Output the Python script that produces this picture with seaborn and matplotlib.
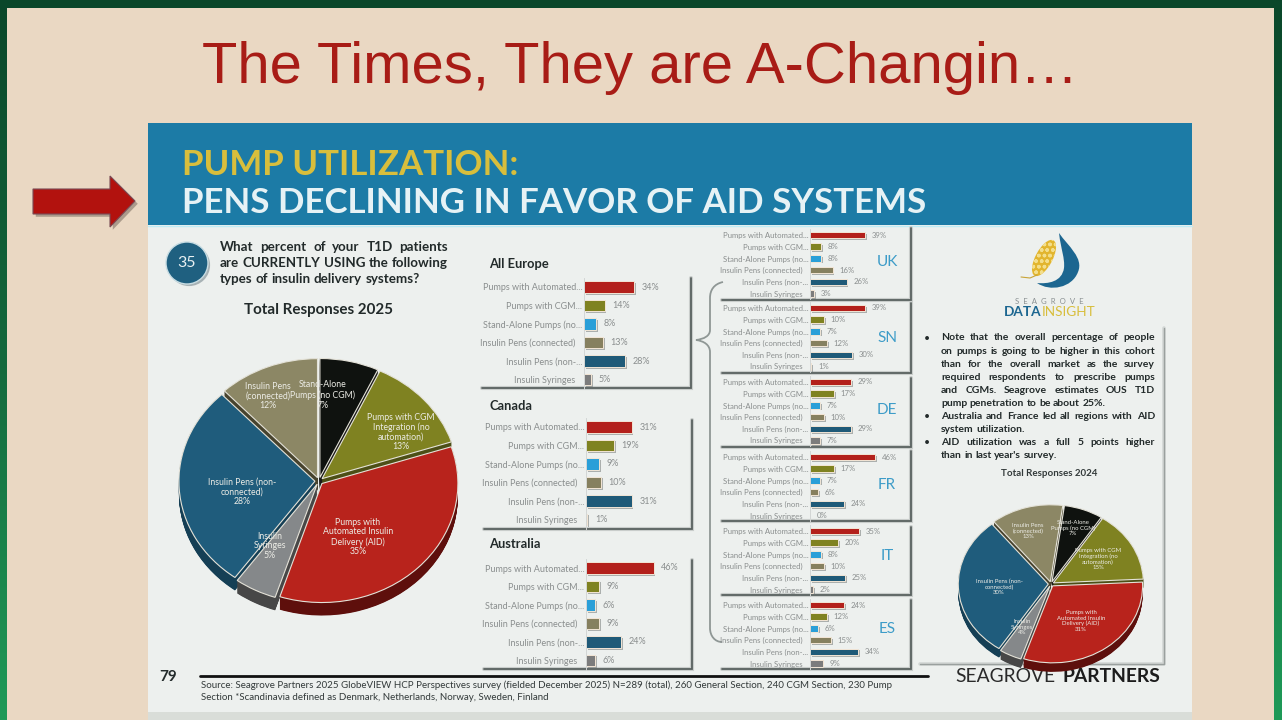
import numpy as np
import pandas as pd
import seaborn as sns
import matplotlib
matplotlib.use("Agg")
import matplotlib.pyplot as plt
import matplotlib.patheffects as pe
from matplotlib.patches import Rectangle, Polygon, Circle, Ellipse, PathPatch
from matplotlib.path import Path

# chart values
bar_names = ["Pumps with Automated...", "Pumps with CGM...", "Stand-Alone Pumps (no...",
             "Insulin Pens (connected)", "Insulin Pens (non-...", "Insulin Syringes"]
all_europe = [34, 14, 8, 13, 28, 5]
canada = [31, 19, 9, 10, 31, 1]
australia = [46, 9, 6, 9, 24, 6]
uk = [39, 8, 8, 16, 26, 3]
sn = [39, 10, 7, 12, 30, 1]
de = [29, 17, 7, 10, 29, 7]
fr = [46, 17, 7, 6, 24, 0]
it = [35, 20, 8, 10, 25, 2]
es = [24, 12, 6, 15, 34, 9]

pie_names = ["Stand-Alone\nPumps (no CGM)", "Pumps with CGM\nIntegration (no\nautomation)",
             "Pumps with\nAutomated Insulin\nDelivery (AID)", "Insulin\nSyringes",
             "Insulin Pens (non-\nconnected)", "Insulin Pens\n(connected)"]
pie_2025 = [7, 13, 35, 5, 28, 12]
pie_2024 = [7, 15, 31, 4, 30, 13]

notes = [
    ("Note that the overall percentage of people", True, True),
    ("on pumps is going to be higher in this cohort", True, False),
    ("than for the overall market as the survey", True, False),
    ("required respondents to prescribe pumps", True, False),
    ("and CGMs.  Seagrove estimates OUS T1D", True, False),
    ("pump penetration to be about 25%.", False, False),
    ("Australia and France led all regions with AID", True, True),
    ("system utilization.", False, False),
    ("AID utilization was a full 5 points higher", True, True),
    ("than in last year's survey.", False, False),
]

# colours
bar_colors = ["#B3201B", "#7F8221", "#2A9FD8", "#86805F", "#1F5A78", "#7C7C7C"]
pie_colors = ["#0F120F", "#7F8221", "#B8231C", "#85888A", "#1F5C7C", "#8C8765"]
pie_sides = ["#1A1A18", "#4C4F16", "#5E0F0C", "#474747", "#153F55", "#47432E"]
PANEL = "#EDF0EE"
TICK = "#8A8E8E"

sns.set_theme(style="white")
plt.rcParams["font.family"] = ["Lato", "DejaVu Sans"]

fig = plt.figure(figsize=(12.82, 7.2), dpi=100)
W, H = 1282, 720
renderer = fig.canvas.get_renderer()


def px_axes(x0, y0, x1, y1, z):
    """Axes placed with pixel corners, y counted from the top."""
    ax = fig.add_axes([x0 / W, 1 - y1 / H, (x1 - x0) / W, (y1 - y0) / H])
    ax.set_zorder(z)
    ax.patch.set_alpha(0)
    return ax


bg = px_axes(0, 0, W, H, 0)
bg.set_xlim(0, W)
bg.set_ylim(H, 0)
bg.axis("off")
top = px_axes(0, 0, W, H, 10)
top.set_xlim(0, W)
top.set_ylim(H, 0)
top.axis("off")

# slide background
green = np.linspace(0, 1, 256).reshape(-1, 1)
cmap = matplotlib.colors.LinearSegmentedColormap.from_list("g", ["#0A472A", "#14693D", "#1F9A58"])
bg.imshow(green, cmap=cmap, extent=(0, W, H, 0), aspect="auto", zorder=0)
bg.set_xlim(0, W)
bg.set_ylim(H, 0)
bg.add_patch(Rectangle((7, 8), 1267, 712, fc="#EAD8C3", ec="none", zorder=1))
bg.add_patch(Rectangle((148, 123), 1044, 597, fc="#D9DDD8", ec="none", zorder=1))
bg.add_patch(Rectangle((148, 123), 1044, 589, fc=PANEL, ec="none", zorder=1))
bg.add_patch(Rectangle((148, 123), 1044, 102, fc="#1C7BA6", ec="none", zorder=2))
bg.plot([148, 1192], [225.5, 225.5], color="#BDEBF5", lw=1, zorder=2)

bg.text(640, 68, "The Times, They are A-Changin\u2026", color="#A81C16", fontsize=41.8,
        family="Liberation Sans", ha="center", va="center", zorder=3)
bg.text(182, 165, "PUMP UTILIZATION:", color="#D8BE3C", fontsize=25.1, fontweight="bold",
        ha="left", va="center", zorder=3)
bg.text(182, 203, "PENS DECLINING IN FAVOR OF AID SYSTEMS", color="#E6F2F5", fontsize=25.1,
        fontweight="bold", ha="left", va="center", zorder=3)

# red arrow
arrow = Polygon([(33, 189), (110, 189), (110, 176), (135, 201), (110, 227), (110, 214), (33, 214)],
                fc="#B2120E", ec="#7A4A55", lw=0.8, zorder=3)
arrow.set_path_effects([pe.withSimplePatchShadow(offset=(2, -2), shadow_rgbFace="#6E6055", alpha=0.5)])
bg.add_patch(arrow)


def text_width(s, **kw):
    t = bg.text(0, 0, s, **kw)
    w = t.get_window_extent(renderer).width
    t.remove()
    return w


def justified(ax, x, y, width, line, stretch=True, **kw):
    """Write one line, spreading the words over the width like the slide text."""
    words = line.split()
    sizes = [text_width(w, **kw) for w in words]
    if stretch and len(words) > 1:
        gap = (width - sum(sizes)) / (len(words) - 1)
    else:
        gap = text_width("a a", **kw) - text_width("aa", **kw)
    for w, s in zip(words, sizes):
        ax.text(x, y, w, ha="left", va="center", **kw)
        x += s + gap


# question block
badge = Circle((187, 263), 21, fc="#1F6080", ec="#C8DDE3", lw=1, zorder=3)
badge.set_path_effects([pe.withSimplePatchShadow(offset=(1.5, -1.5), shadow_rgbFace="#7A8A90", alpha=0.6)])
bg.add_patch(badge)
bg.text(187, 263, "35", color="#E8F0F2", fontsize=11.5, ha="center", va="center", zorder=4)
question = [("What percent of your T1D patients", True),
            ("are CURRENTLY USING the following", True),
            ("types of insulin delivery systems?", False)]
for i, (line, stretch) in enumerate(question):
    justified(bg, 220, 247 + i * 16, 228, line, stretch, fontsize=9.6, fontweight="bold",
              color="#222A2A", zorder=3)
bg.text(318, 310, "Total Responses 2025", color="#222A2A", fontsize=10.9, fontweight="bold",
        ha="center", va="center", zorder=3)


def draw_pie(values, cx, cy, rx, ry, depth, start, explode):
    """Tilted pie: dark copies shifted down make the wall, the face goes on top."""
    ax = px_axes(cx - 1.3 * rx, cy - 1.3 * ry, cx + 1.3 * rx, cy + 1.3 * ry, 4)
    exp = [explode] * len(values)
    for k in np.linspace(depth, 0.5, int(depth) * 2):
        ax.pie(values, colors=pie_sides, startangle=start, counterclock=False, explode=exp,
               center=(0, -k / ry), wedgeprops=dict(linewidth=0))
    ax.pie(values, colors=pie_colors, startangle=start, counterclock=False, explode=exp,
           wedgeprops=dict(linewidth=0.8, edgecolor="#E4E2D8"))
    ax.set_aspect("auto")
    ax.set_xlim(-1.3, 1.3)
    ax.set_ylim(-1.3, 1.3)
    return ax


draw_pie(pie_2025, 319, 481, 136, 119, 13, 90, 0.03)
draw_pie(pie_2024, 1051, 584, 90, 77, 9, 82, 0.03)

spots_2025 = [(323, 395), (401, 432), (358, 537), (270, 546), (242, 492), (268, 396)]
spots_2024 = [(1073, 528), (1098, 559), (1081, 621), (1022, 627), (999, 587), (1028, 531)]
for names, vals, spots, size in [(pie_names, pie_2025, spots_2025, 6.3),
                                 (pie_names, pie_2024, spots_2024, 4.3)]:
    for name, v, (x, y) in zip(names, vals, spots):
        top.text(x, y, f"{name}\n{v}%", color="#ECECE6", fontsize=size, ha="center", va="center",
                 linespacing=1.1)


def bar_panel(values, x0, row0, step, scale, size, height, frame_left, frame_top, frame_right, frame_bottom):
    """One regional bar list with the slide's grey L-shaped frame."""
    ax = px_axes(x0, row0 - step / 2, x0 + 60 * scale, row0 + 5.5 * step, 5)
    df = pd.DataFrame({"name": bar_names, "value": values})
    sns.barplot(data=df, x="value", y="name", hue="name", palette=bar_colors, legend=False,
                width=height, saturation=1, ax=ax, edgecolor="#F3E6D6", linewidth=0.7)
    ax.set_xlim(0, 60)
    ax.set_ylim(5.5, -0.5)
    ax.set(xlabel="", ylabel="", xticks=[])
    for c in ax.containers:
        for b in c:
            b.set_path_effects([pe.withSimplePatchShadow(offset=(1.3, -1.3), shadow_rgbFace="#6A6F6E", alpha=0.5)])
        ax.bar_label(c, fmt="%d%%", padding=size * 0.85, fontsize=size, color=TICK)
    ax.tick_params(axis="y", length=0, labelsize=size, labelcolor=TICK)
    for name, tick in zip(bar_names, ax.yaxis.get_major_ticks()):
        tick.set_pad(size * 0.2 if name.endswith("...") else size * 1.0)
    sns.despine(ax=ax, top=True, right=True, bottom=True)
    ax.spines["left"].set_color("#D3D6D5")
    ax.spines["left"].set_linewidth(0.7)
    for lw, col in [(3, "#C9CDCB"), (1.3, "#59615F")]:
        bg.plot([frame_left, frame_right, frame_right], [frame_bottom, frame_bottom, frame_top],
                color=col, lw=lw, zorder=3, solid_joinstyle="miter")


big = dict(step=18.5, scale=1.47, size=6.45, height=0.63)
bar_panel(all_europe, 584, 287, frame_left=482, frame_top=278, frame_right=691, frame_bottom=388, **big)
bar_panel(canada, 586, 427, frame_left=484, frame_top=420, frame_right=692, frame_bottom=529, **big)
bar_panel(australia, 586, 568, frame_left=484, frame_top=560, frame_right=692, frame_bottom=669, **big)

small = dict(step=11.7, scale=1.41, size=5.55, height=0.56)
rows = [(uk, 235, 228, 300), (sn, 308, 303, 373), (de, 382, 378, 447),
        (fr, 457, 451, 521), (it, 531, 527, 595), (es, 605, 600, 669)]
for vals, row0, f_top, f_bottom in rows:
    bar_panel(vals, 810, row0, frame_left=722, frame_top=f_top, frame_right=911, frame_bottom=f_bottom, **small)

for name, y in [("All Europe", 264), ("Canada", 406), ("Australia", 544)]:
    bg.text(489, y, name, color="#222A2A", fontsize=9.3, fontweight="bold", ha="left", va="center", zorder=3)
for name, y in [("UK", 262), ("SN", 338), ("DE", 410), ("FR", 485), ("IT", 556), ("ES", 629)]:
    bg.text(887, y, name, color="#3D9CC8", fontsize=11, ha="center", va="center", zorder=3)

# brace between the Europe panel and the countries
brace = Path([(723, 282), (714, 284), (710, 290), (710, 298), (710, 312), (710, 322), (710, 330),
              (710, 336), (704, 339), (696, 340), (704, 341), (710, 345), (710, 352),
              (710, 450), (710, 550), (710, 628), (710, 636), (715, 642), (722, 642)],
             [Path.MOVETO] + [Path.CURVE4] * 18)
bg.add_patch(PathPatch(brace, fc="none", ec="#8F9795", lw=1.3, zorder=3))

# logo
crescent = Path([(1059, 233), (1068, 246), (1084, 258), (1078, 272), (1072, 288), (1050, 292), (1037, 283),
                 (1048, 284), (1062, 282), (1064, 268), (1065, 258), (1061, 250), (1059, 233)],
                [Path.MOVETO] + [Path.CURVE4] * 12)
bg.add_patch(PathPatch(crescent, fc="#1C6690", ec="none", zorder=3))
bg.add_patch(Ellipse((1044, 258), 17, 40, angle=28, fc="#E2B52E", ec="#F3DE8C", hatch="ooo", lw=0, zorder=3))
bg.plot([1021, 1030, 1037], [277, 278, 275], color="#C9A437", lw=0.8, zorder=3)
bg.text(1049.5, 302, "S  E  A  G  R  O  V  E", color="#8A9092", fontsize=5.6, ha="center", va="center", zorder=3)
logo_a = bg.text(1004, 312, "DATA", color="#1C6690", fontsize=9.8, fontweight="bold", ha="left", va="center", zorder=3)
bg.text(1004 + logo_a.get_window_extent(renderer).width, 312, "INSIGHT", color="#D8BE3C", fontsize=9.8,
        ha="left", va="center", zorder=3)

# notes
for i, (line, stretch, bullet) in enumerate(notes):
    y = 338 + i * 13.1
    if bullet:
        bg.text(927, y, "\u2022", color="#222A2A", fontsize=7.6, ha="center", va="center", zorder=3)
    justified(bg, 941, y, 214, line, stretch, fontsize=7.5, fontweight="bold", color="#222A2A", zorder=3)
bg.text(1049, 473, "Total Responses 2024", color="#333A3A", fontsize=7, fontweight="bold",
        ha="center", va="center", zorder=3)
for lw, col in [(2.6, "#D2D6D4"), (1.0, "#9AA09E")]:
    bg.plot([920, 1164, 1164], [664, 664, 328], color=col, lw=lw, zorder=3)

# footer
bg.plot([200, 928], [676, 676], color="#111111", lw=2, zorder=3)
bg.text(159, 677, "79", color="#222A2A", fontsize=11, fontweight="bold", ha="left", va="center", zorder=3)
bg.text(201, 685, "Source: Seagrove Partners 2025 GlobeVIEW HCP Perspectives survey (fielded December 2025) "
        "N=289 (total), 260 General Section, 240 CGM Section, 230 Pump", color="#333A3A", fontsize=7.0,
        ha="left", va="center", zorder=3)
bg.text(201, 697, "Section *Scandinavia defined as Denmark, Netherlands, Norway, Sweden, Finland",
        color="#333A3A", fontsize=7.0, ha="left", va="center", zorder=3)
bg.text(955, 677, "SEAGROVE", color="#2A2A2A", fontsize=13.9, ha="left", va="center", zorder=3)
bg.text(1063, 677, "PARTNERS", color="#1C1C1C", fontsize=13.9, fontweight="bold", ha="left", va="center", zorder=3)

fig.savefig("out.png", dpi=100)
